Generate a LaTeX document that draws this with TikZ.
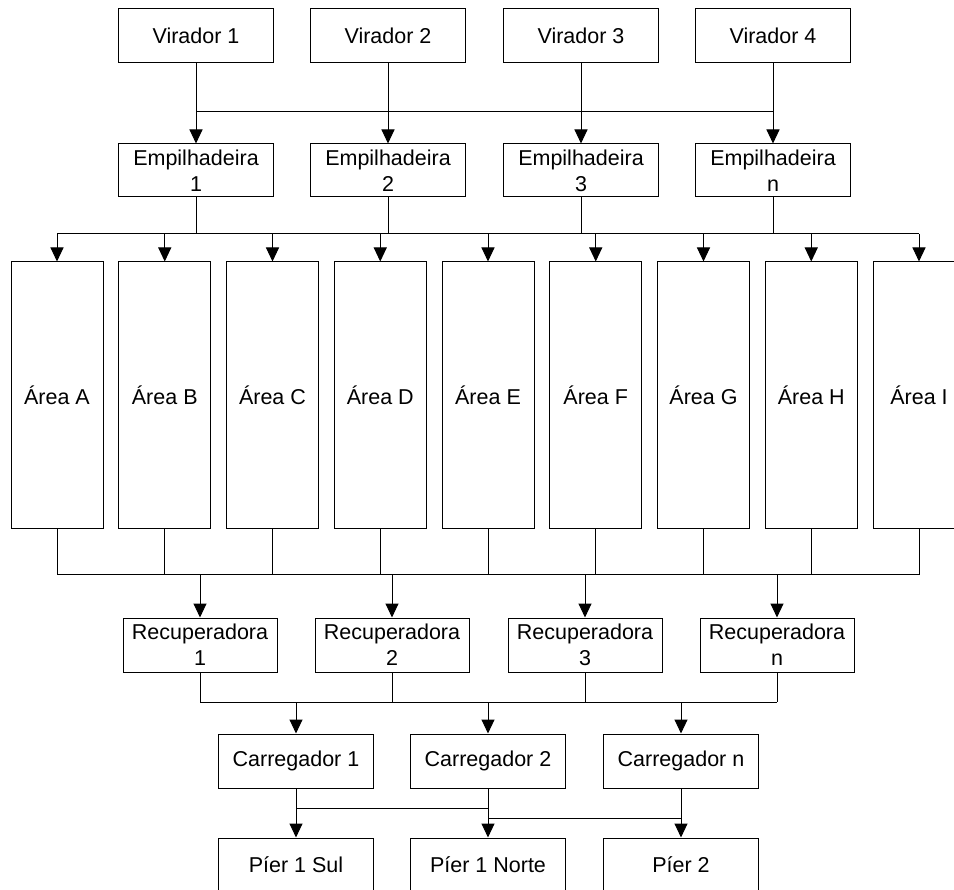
\documentclass[tikz,border=0pt]{standalone}
\usepackage{fontspec}
\setmainfont{Liberation Sans}
\usetikzlibrary{arrows.meta}
\begin{document}
\begin{tikzpicture}[x=1pt,y=-1pt,
 box/.style={draw, line width=1pt, minimum width=155pt, minimum height=54pt, inner sep=0pt, align=center, font=\fontsize{21.5}{26}\selectfont},
 areabox/.style={box, minimum width=92pt, minimum height=267pt},
 ln/.style={line width=1pt},
 arr/.style={ln, -{Triangle[width=13pt,length=14pt]}}]
\useasboundingbox (0,0) rectangle (954,890);
% rows
\node[box] (v1) at (196,36) {Virador 1};
\node[box] (v2) at (388,36) {Virador 2};
\node[box] (v3) at (581,36) {Virador 3};
\node[box] (v4) at (773,36) {Virador 4};
\node[box,minimum height=53pt] (e1) at (196,170.5) {Empilhadeira\\1};
\node[box,minimum height=53pt] (e2) at (388,170.5) {Empilhadeira\\2};
\node[box,minimum height=53pt] (e3) at (581,170.5) {Empilhadeira\\3};
\node[box,minimum height=53pt] (e4) at (773,170.5) {Empilhadeira\\n};
\node[areabox] (a1) at (57,395.5) {Área A};
\node[areabox] (a2) at (164.75,395.5) {Área B};
\node[areabox] (a3) at (272.5,395.5) {Área C};
\node[areabox] (a4) at (380.25,395.5) {Área D};
\node[areabox] (a5) at (488,395.5) {Área E};
\node[areabox] (a6) at (595.75,395.5) {Área F};
\node[areabox] (a7) at (703.5,395.5) {Área G};
\node[areabox] (a8) at (811.25,395.5) {Área H};
\node[areabox] (a9) at (919,395.5) {Área I};
\node[box,minimum width=154pt] (r1) at (200,645) {Recuperadora\\1};
\node[box,minimum width=154pt] (r2) at (392,645) {Recuperadora\\2};
\node[box,minimum width=154pt] (r3) at (585,645) {Recuperadora\\3};
\node[box,minimum width=154pt] (r4) at (777,645) {Recuperadora\\n};
\node[box] (c1) at (296,761) {Carregador 1};
\node[box] (c2) at (488,761) {Carregador 2};
\node[box] (c3) at (681,761) {Carregador n};
\node[box] (p1) at (296,865) {Píer 1 Sul};
\node[box] (p2) at (488,865) {Píer 1 Norte};
\node[box] (p3) at (681,865) {Píer 2};
% bus levels
\coordinate (b1) at (0,112);
\coordinate (b2) at (0,234);
\coordinate (b3) at (0,575);
\coordinate (b4) at (0,702);
\coordinate (b5) at (0,808);
\coordinate (b6) at (0,818);
% Virador -> Empilhadeira
\foreach \i in {1,2,3,4} \draw[arr] (v\i) -- (e\i);
\draw[ln] (v1.south |- b1) -- (v4.south |- b1);
% Empilhadeira -> Areas
\foreach \i in {1,2,3,4} \draw[ln] (e\i.south) -- (e\i.south |- b2);
\draw[ln] (a1.north |- b2) -- (a9.north |- b2);
\foreach \i in {1,...,9} \draw[arr] (a\i.north |- b2) -- (a\i.north);
% Areas -> Recuperadoras
\foreach \i in {1,...,9} \draw[ln] (a\i.south) -- (a\i.south |- b3);
\draw[ln] (a1.south |- b3) -- (a9.south |- b3);
\foreach \i in {1,2,3,4} \draw[arr] (r\i.north |- b3) -- (r\i.north);
% Recuperadoras -> Carregadores
\foreach \i in {1,2,3,4} \draw[ln] (r\i.south) -- (r\i.south |- b4);
\draw[ln] (r1.south |- b4) -- (r4.south |- b4);
\foreach \i in {1,2,3} \draw[arr] (c\i.north |- b4) -- (c\i.north);
% Carregadores -> Piers
\foreach \i in {1,2,3} \draw[arr] (c\i) -- (p\i);
\draw[ln] (c1.south |- b5) -- (c2.south |- b5);
\draw[ln] (c2.south |- b6) -- (c3.south |- b6);
\end{tikzpicture}
\end{document}
